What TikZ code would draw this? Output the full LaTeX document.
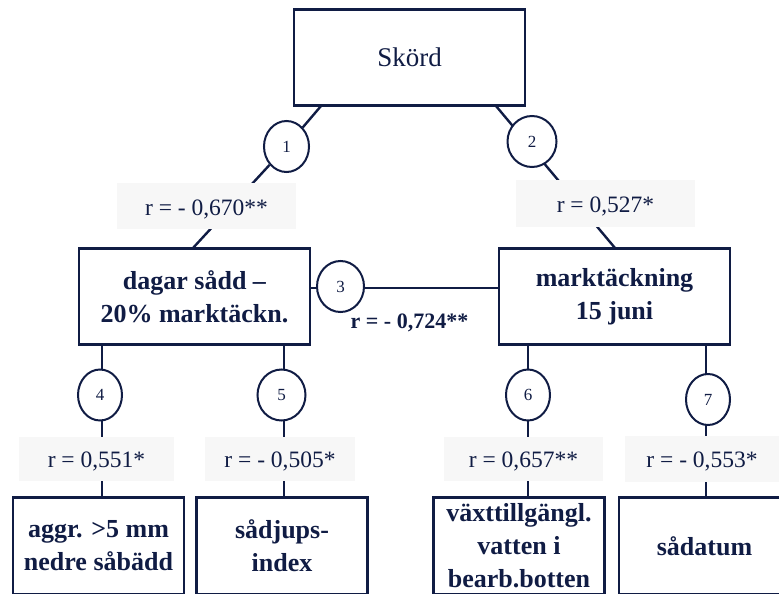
\documentclass[tikz,border=0pt]{standalone}
\usepackage{fontspec}
\setmainfont{Liberation Serif}
\usetikzlibrary{backgrounds,shapes.geometric}
\definecolor{navy}{RGB}{16,28,68}
\definecolor{lblgray}{RGB}{247,247,247}
\begin{document}
\begin{tikzpicture}[x=1pt,y=-1pt,
  mainbox/.style={draw=navy,line width=2.6pt,fill=white,minimum width=231pt,minimum height=96pt,inner sep=0pt,text=navy,align=center,font=\fontsize{26}{33}\selectfont\bfseries},
  lowbox/.style={mainbox,minimum width=171pt,minimum height=97pt},
  numcirc/.style={ellipse,draw=navy,line width=2pt,fill=white,minimum width=45pt,minimum height=51pt,inner sep=0pt,text=navy,font=\fontsize{17}{20}\selectfont},
  rlabel/.style={fill=lblgray,minimum height=46pt,inner sep=0pt,text height=17pt,text depth=0pt,text=navy,font=\fontsize{23.5}{28}\selectfont},
  conn/.style={draw=navy,line width=2.4pt}
]
\useasboundingbox (0,0) rectangle (779,594);
\clip (0,0) rectangle (779,594);

% main boxes
\node[mainbox,font=\fontsize{27}{33}\selectfont] (skord) at (409.5,57.5) {Skörd};
\node[mainbox] (dagar) at (194.5,296.5) {dagar sådd --\\20\% marktäckn.};
\node[mainbox] (mark) at (614.5,296.5) {marktäckning\\15 juni};
\node[lowbox] (aggr) at (98.5,546) {aggr. >5 mm\\nedre såbädd};
\node[lowbox] (sadjup) at (282,546) {sådjups-\\index};
\node[lowbox] (vaxt) at (519,546) {växttillgängl.\\vatten i\\bearb.botten};
\node[lowbox] (sadatum) at (704.5,546) {sådatum};

% circles
\node[numcirc] (c1) at (286.5,146.5) {1};
\node[numcirc,minimum width=49pt] (c2) at (532,141.5) {2};
\node[numcirc,minimum width=47pt] (c3) at (340.5,286.5) {3};
\node[numcirc,minimum width=44pt] (c4) at (100,395) {4};
\node[numcirc,minimum width=48pt] (c5) at (281.5,395) {5};
\node[numcirc,minimum width=44pt] (c6) at (528,395) {6};
\node[numcirc,minimum width=44pt] (c7) at (708,399.5) {7};

% correlation labels
\node[rlabel,minimum width=179pt,text height=18pt] (l1) at (206.5,206) {r = - 0,670**};
\node[rlabel,minimum width=179pt,minimum height=47pt,text height=18pt] (l2) at (605.5,203.5) {r = 0,527*};
\node[rlabel,minimum width=155pt,minimum height=44pt] (l4) at (96.5,459) {r = 0,551*};
\node[rlabel,minimum width=150pt,minimum height=44pt] (l5) at (280,459) {r = - 0,505*};
\node[rlabel,minimum width=159pt,minimum height=44pt] (l6) at (523.5,459) {r = 0,657**};
\node[rlabel,minimum width=154pt] (l7) at (702,459) {r = - 0,553*};
\node[anchor=base,inner sep=0pt,text=navy,font=\fontsize{22}{26}\selectfont\bfseries] (l3) at (409.5,328) {r = - 0,724**};

% attachment points
\coordinate (s1) at (321,106);
\coordinate (d1) at (193,248);
\coordinate (s2) at (496,106);
\coordinate (m2) at (615,248);

\begin{scope}[on background layer]
\draw[conn] (s1) -- (c1) -- (d1);
\draw[conn] (s2) -- (m2);
\draw[conn] (dagar.east |- 0,288) -- (mark.west |- 0,288);
\draw[conn] (dagar.south -| 102,0) -- (aggr.north -| 102,0);
\draw[conn] (dagar.south -| 284,0) -- (sadjup.north -| 284,0);
\draw[conn] (mark.south -| 528,0) -- (vaxt.north -| 528,0);
\draw[conn] (mark.south -| 706,0) -- (sadatum.north -| 706,0);
\end{scope}
\end{tikzpicture}
\end{document}
